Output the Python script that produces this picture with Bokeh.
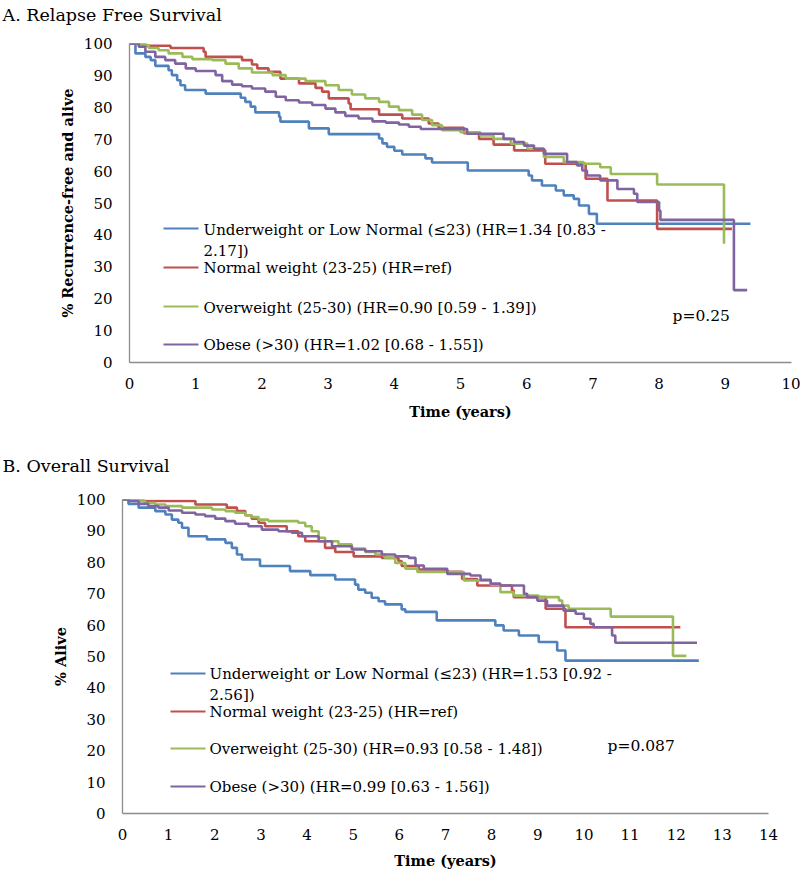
from bokeh.plotting import figure
from bokeh.models import Range1d, FixedTicker, Label
from bokeh.embed import file_html
from bokeh.resources import INLINE

FONT = "DejaVu Serif"
COLORS = ["#4F81BD", "#C0504D", "#9BBB59", "#8064A2"]

# ---------------- Panel A: Relapse Free Survival ----------------
rfs_under_t = [0, 0.09, 0.24, 0.32, 0.39, 0.59, 0.64, 0.72, 0.77, 0.84, 1.15, 1.68, 1.75, 1.83, 1.90,
               2.26, 2.28, 2.71, 3.01, 3.77, 3.82, 3.89, 4.00, 4.12, 4.47, 4.57, 5.11, 6.03, 6.08,
               6.23, 6.44, 6.56, 6.71, 6.79, 6.94, 7.06, 9.38]
rfs_under_s = [100, 96.9, 95.8, 94.8, 93.0, 91.6, 90.1, 88.5, 86.9, 85.4, 84.3, 83.0, 81.7, 80.2, 78.4,
               77.0, 75.5, 73.4, 71.6, 70.2, 68.7, 67.6, 66.4, 65.2, 64.0, 62.7, 60.2, 58.6, 57.1,
               55.5, 53.9, 52.4, 51.3, 49.2, 46.6, 43.5, 43.5]
rfs_normal_t = [0, 0.24, 0.62, 1.12, 1.15, 1.70, 1.85, 1.93, 2.10, 2.28, 2.56, 2.81, 2.91, 3.01, 3.31,
                3.34, 3.77, 4.12, 4.52, 4.67, 5.05, 5.28, 5.50, 5.81, 6.28, 6.89, 7.22, 7.97, 9.10]
rfs_normal_s = [100, 99.3, 98.6, 97.4, 95.8, 94.8, 93.4, 92.2, 91.1, 89.0, 87.5, 86.1, 84.9, 82.8, 81.2,
                79.4, 77.7, 76.5, 74.9, 73.6, 71.9, 70.1, 68.3, 66.5, 62.3, 57.6, 50.8, 41.9, 41.9]
rfs_over_t = [0, 0.14, 0.29, 0.44, 0.59, 0.80, 0.95, 1.25, 1.45, 1.65, 1.85, 2.16, 2.36, 2.66, 2.96,
              3.16, 3.36, 3.56, 3.77, 3.92, 4.07, 4.27, 4.42, 4.57, 4.72, 5.00, 5.30, 5.50, 5.76,
              6.01, 6.26, 6.56, 6.86, 7.11, 7.27, 7.97, 8.98]
rfs_over_s = [100, 99.5, 98.6, 97.9, 96.9, 95.8, 95.1, 94.8, 93.7, 92.2, 90.9, 90.1, 89.0, 88.2, 86.9,
              85.4, 84.0, 82.8, 81.7, 80.2, 79.1, 77.7, 76.0, 74.4, 72.8, 72.2, 71.2, 70.1, 68.6,
              67.0, 64.4, 62.8, 62.3, 61.2, 59.1, 55.8, 37.2]
rfs_obese_t = [0, 0.14, 0.24, 0.39, 0.54, 0.69, 0.85, 1.00, 1.30, 1.40, 1.55, 1.70, 1.85, 2.05, 2.21,
               2.36, 2.56, 2.76, 2.96, 3.11, 3.26, 3.46, 3.67, 3.87, 4.07, 4.22, 4.40, 5.10, 5.65,
               5.81, 5.96, 6.11, 6.26, 6.61, 6.76, 6.84, 6.91, 7.11, 7.37, 7.62, 7.67, 8.00, 8.02,
               9.13, 9.33]
rfs_obese_s = [100, 99.0, 97.4, 95.8, 94.8, 93.7, 92.2, 91.4, 90.1, 88.2, 87.1, 86.6, 85.9, 84.9, 83.3,
               82.2, 81.5, 80.7, 79.6, 78.4, 77.3, 76.5, 75.6, 75.2, 74.6, 73.9, 73.2, 71.7, 70.1,
               69.1, 68.0, 67.0, 65.4, 62.8, 61.8, 60.2, 58.6, 57.1, 54.4, 52.9, 50.3, 47.6, 44.7,
               22.7, 22.7]
rfs_legend = [
    ["Underweight or Low Normal (\u226423) (HR=1.34 [0.83 -", "2.17])"],
    ["Normal weight (23-25) (HR=ref)"],
    ["Overweight (25-30) (HR=0.90 [0.59 - 1.39])"],
    ["Obese (>30) (HR=1.02 [0.68 - 1.55])"],
]
rfs_p = "p=0.25"
rfs_xticks = [0, 1, 2, 3, 4, 5, 6, 7, 8, 9, 10]

# ---------------- Panel B: Overall Survival ----------------
os_under_t = [0, 0.13, 0.35, 0.71, 0.93, 1.07, 1.21, 1.29, 1.43, 1.83, 2.23, 2.37, 2.48, 2.59, 2.98,
              3.63, 4.07, 4.61, 5.04, 5.11, 5.26, 5.40, 5.55, 5.69, 6.05, 6.13, 6.81, 8.08, 8.26,
              8.59, 9.02, 9.42, 9.60, 12.49]
os_under_s = [100, 98.6, 97.4, 96.3, 95.2, 93.6, 92.6, 91.0, 88.3, 87.3, 86.2, 84.6, 82.5, 80.9, 78.8,
              77.2, 75.9, 74.5, 72.9, 71.3, 70.3, 68.7, 67.6, 66.6, 65.0, 64.2, 61.5, 59.9, 58.3,
              56.7, 54.6, 51.9, 48.7, 48.7]
os_normal_t = [0, 0.46, 1.58, 2.26, 2.48, 2.66, 2.80, 2.95, 3.09, 3.56, 3.81, 3.96, 4.39, 4.61, 5.01,
               5.62, 5.98, 6.05, 6.42, 7.00, 7.36, 7.69, 8.44, 8.48, 9.17, 9.60, 12.09]
os_normal_s = [100, 99.5, 98.4, 97.4, 96.3, 95.0, 93.9, 92.6, 91.5, 89.9, 88.3, 86.7, 84.6, 83.3, 81.9,
               81.4, 80.4, 78.8, 77.7, 77.0, 74.7, 72.6, 71.0, 68.9, 65.2, 59.3, 59.3]
os_over_t = [0, 0.27, 0.49, 0.71, 0.93, 1.29, 1.94, 2.23, 2.44, 2.66, 2.80, 2.95, 3.16, 3.81, 3.96,
             4.10, 4.25, 4.39, 4.68, 4.97, 5.26, 5.48, 5.69, 5.91, 6.13, 6.39, 7.40, 7.98, 8.19,
             8.48, 9.02, 9.46, 9.53, 9.67, 10.58, 11.93, 12.22]
os_over_s = [100, 99.5, 98.9, 98.4, 97.9, 97.4, 96.8, 96.3, 95.8, 95.0, 94.4, 93.6, 93.1, 92.6, 91.5,
             89.9, 87.8, 86.7, 85.7, 84.4, 83.3, 82.5, 81.4, 79.8, 78.0, 76.9, 74.2, 72.9, 70.5,
             69.4, 68.9, 67.8, 66.2, 65.2, 62.7, 50.2, 50.2]
os_obese_t = [0, 0.13, 0.35, 0.56, 0.78, 1.00, 1.29, 1.58, 1.79, 2.01, 2.23, 2.44, 2.73, 3.02, 3.38,
              3.67, 3.89, 4.25, 4.54, 4.97, 5.26, 5.62, 5.91, 6.20, 6.35, 6.53, 7.04, 7.54, 7.76,
              7.98, 8.19, 8.70, 8.77, 8.99, 9.20, 9.56, 9.82, 10.00, 10.14, 10.21, 10.61, 10.68, 12.45]
os_obese_s = [100, 99.5, 98.6, 97.9, 97.4, 96.5, 95.8, 95.2, 94.7, 93.9, 93.1, 92.3, 91.5, 90.4, 89.9,
              89.4, 88.3, 86.7, 85.1, 84.1, 83.5, 82.5, 81.9, 81.4, 79.0, 77.9, 76.3, 75.8, 74.4,
              73.2, 72.6, 70.0, 68.9, 67.8, 66.2, 64.6, 63.6, 62.0, 60.4, 59.3, 56.7, 54.4, 54.4]
os_legend = [
    ["Underweight or Low Normal (\u226423) (HR=1.53 [0.92 -", "2.56])"],
    ["Normal weight (23-25) (HR=ref)"],
    ["Overweight (25-30) (HR=0.93 [0.58 - 1.48])"],
    ["Obese (>30) (HR=0.99 [0.63 - 1.56])"],
]
os_p = "p=0.087"
os_xticks = [0, 1, 2, 3, 4, 5, 6, 7, 8, 9, 10, 11, 12, 13, 14]

y_ticks = [0, 10, 20, 30, 40, 50, 60, 70, 80, 90, 100]

FIG_W = 800


def make_panel(title, ylabel, series, legend, ptext, xticks, fig_top, fig_h,
               fl, fr, ft, fb, leg_x0, leg_x1, leg_tx, leg_rows, p_xy,
               title_x, title_line_height, xlab_standoff):
    xmax = xticks[-1]
    # a blank second title line keeps the (vertically centred) title near the top edge
    p = figure(width=FIG_W, height=fig_h, x_range=Range1d(0, xmax), y_range=Range1d(0, 100),
               output_backend="svg", toolbar_location=None, title=title + "\n ",
               min_border_left=fl, min_border_right=FIG_W - fr,
               min_border_top=ft - fig_top, min_border_bottom=fig_top + fig_h - fb)
    p.outline_line_color = None
    p.xgrid.visible = False
    p.ygrid.visible = False

    p.title.text_font = FONT
    p.title.text_font_size = "17.5px"
    p.title.text_font_style = "normal"
    p.title.text_color = "black"
    p.title.text_line_height = title_line_height
    p.title.align = "left"
    p.title.offset = title_x - fl
    p.title.standoff = 0

    def dx(px):
        return (px - fl) / (fr - fl) * xmax

    def dy(py):
        return (fb - py) / (fb - ft) * 100

    for (t, s), c in zip(series, COLORS):
        p.step(t, s, mode="after", line_color=c, line_width=2.6)

    for ax in (p.xaxis[0], p.yaxis[0]):
        ax.axis_line_color = "#8c8c8c"
        ax.axis_line_width = 1.3
        ax.major_tick_line_color = None
        ax.minor_tick_line_color = None
        ax.major_tick_out = 0
        ax.major_tick_in = 0
        ax.minor_tick_out = 0
        ax.minor_tick_in = 0
        ax.major_label_text_font = FONT
        ax.major_label_text_font_size = "15px"
        ax.major_label_text_color = "black"
        ax.axis_label_text_font = FONT
        ax.axis_label_text_font_style = "bold"
        ax.axis_label_text_font_size = "14.5px"
        ax.axis_label_text_color = "black"
    p.xaxis.ticker = FixedTicker(ticks=xticks)
    p.yaxis.ticker = FixedTicker(ticks=y_ticks)
    p.xaxis.major_label_standoff = 15
    p.yaxis.major_label_standoff = 17
    p.xaxis.axis_label = "Time (years)"
    p.yaxis.axis_label = ylabel
    p.xaxis.axis_label_standoff = xlab_standoff
    p.yaxis.axis_label_standoff = 5

    # legend (drawn inside the plot area)
    for (lines, c, (ly, ty)) in zip(legend, COLORS, leg_rows):
        p.segment(x0=[dx(leg_x0)], y0=[dy(ly)], x1=[dx(leg_x1)], y1=[dy(ly)],
                  line_color=c, line_width=2)
        for k, txt in enumerate(lines):
            p.add_layout(Label(x=dx(leg_tx), y=dy(ty + 21.5 * k), text=txt, text_font=FONT,
                               text_font_size="15px", text_baseline="middle",
                               text_align="left", text_color="black"))
    p.add_layout(Label(x=dx(p_xy[0]), y=dy(p_xy[1]), text=ptext, text_font=FONT,
                       text_font_size="15.5px", text_baseline="middle", text_align="left",
                       text_color="black"))
    return p


pa = make_panel("A. Relapse Free Survival", "% Recurrence-free and alive",
                [(rfs_under_t, rfs_under_s), (rfs_normal_t, rfs_normal_s),
                 (rfs_over_t, rfs_over_s), (rfs_obese_t, rfs_obese_s)],
                rfs_legend, rfs_p, rfs_xticks, 0, 440,
                129, 791, 43, 362,
                163, 198, 203, [(228, 229), (267, 267), (306, 307), (344, 344)],
                (672, 315), 2, 0.95, 11)

pb = make_panel("B. Overall Survival", "% Alive",
                [(os_under_t, os_under_s), (os_normal_t, os_normal_s),
                 (os_over_t, os_over_s), (os_obese_t, os_obese_s)],
                os_legend, os_p, os_xticks, 440, 432,
                122, 768, 499, 813,
                170, 205, 209, [(673, 673), (711, 711), (748, 748), (786, 786)],
                (607, 745), 2, 1.2, 9)

open("out.html", "w").write(file_html([pa, pb], INLINE))
